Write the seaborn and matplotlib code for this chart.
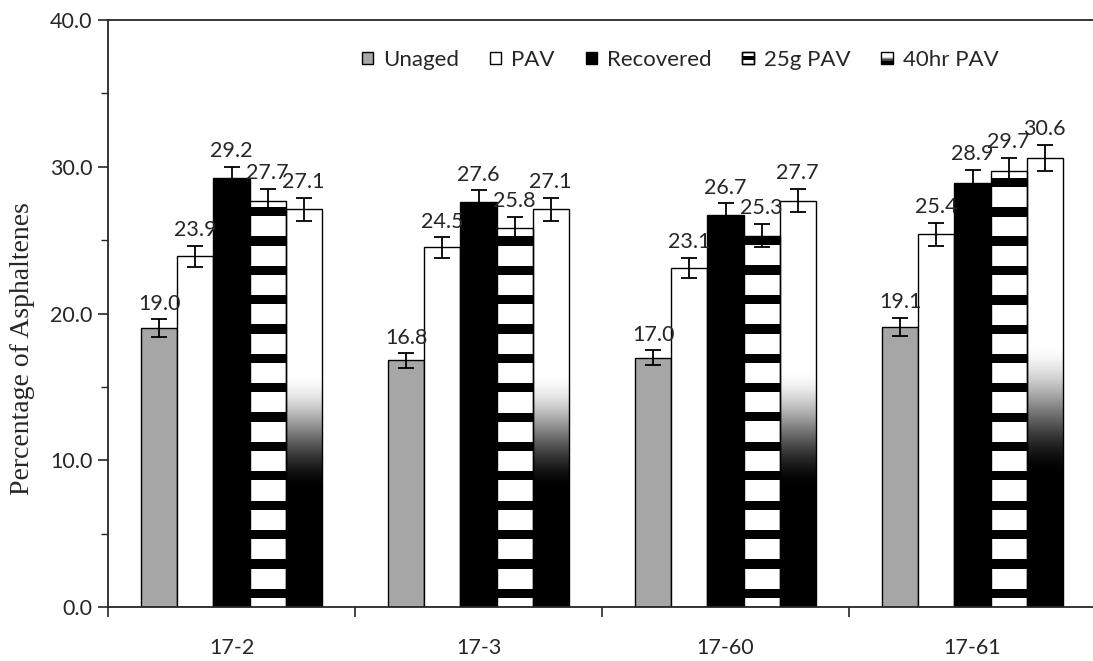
import numpy as np
import pandas as pd
import seaborn as sns
import matplotlib.pyplot as plt
from matplotlib.patches import Rectangle, Patch
from matplotlib.legend_handler import HandlerBase
from matplotlib.ticker import MultipleLocator, FixedLocator, NullFormatter

# data
samples = ['17-2', '17-3', '17-60', '17-61']
series = ['Unaged', 'PAV', 'Recovered', '25g PAV', '40hr PAV']
unaged = [19.0, 16.8, 17.0, 19.1]
pav = [23.9, 24.5, 23.1, 25.4]
recovered = [29.2, 27.6, 26.7, 28.9]
pav_25g = [27.7, 25.8, 25.3, 29.7]
pav_40hr = [27.1, 27.1, 27.7, 30.6]
err_unaged = [0.6, 0.5, 0.5, 0.6]
err_pav = [0.7, 0.7, 0.7, 0.8]
err_recovered = [0.8, 0.8, 0.8, 0.9]
err_25g = [0.8, 0.8, 0.8, 0.9]
err_40hr = [0.8, 0.8, 0.8, 0.9]
y_ticks = [0, 10, 20, 30, 40]

values = [unaged, pav, recovered, pav_25g, pav_40hr]
errors = [err_unaged, err_pav, err_recovered, err_25g, err_40hr]
colors = ['#a6a6a6', 'white', 'black', 'black', 'white']

df = pd.DataFrame({
    'Sample': samples * len(series),
    'Series': np.repeat(series, len(samples)),
    'Value': sum(values, []),
})

sns.set_style('ticks')
plt.rcParams['font.family'] = ['Lato', 'DejaVu Sans']
FS = 15.5

fig = plt.figure(figsize=(10.93, 6.61), dpi=100)
ax = fig.add_axes([108 / 1093, 54 / 661, 988 / 1093, 587 / 661])

sns.barplot(data=df, x='Sample', y='Value', hue='Series', hue_order=series,
            palette=colors, saturation=1, width=0.73, gap=0, edgecolor='black',
            linewidth=1, errorbar=None, legend=False, ax=ax)

# stripes for 25g PAV (white bands on black, period of 2 units)
yy = np.arange(0, 40, 0.02)
stripe = (((yy + 0.76) % 2.0) < 1.36).astype(float)[:, None]
for bar in ax.containers[3]:
    x0, w = bar.get_x(), bar.get_width()
    im = ax.imshow(stripe, cmap='gray', vmin=0, vmax=1, origin='lower', aspect='auto',
                   extent=(x0, x0 + w, 0, 40), interpolation='nearest', zorder=2)
    im.set_clip_path(bar)
    bar.set_facecolor('none')
    bar.set_zorder(2.1)

# gradient for 40hr PAV (black bottom -> white top)
for bar in ax.containers[4]:
    x0, w, h = bar.get_x(), bar.get_width(), bar.get_height()
    f = np.linspace(0, 1, 400)
    g = np.clip((f - 0.29) / 0.30, 0, 1)
    g = g * g * (3 - 2 * g)
    im = ax.imshow(g[:, None], cmap='gray', vmin=0, vmax=1, origin='lower', aspect='auto',
                   extent=(x0, x0 + w, 0, h), interpolation='bilinear', zorder=2)
    im.set_clip_path(bar)
    bar.set_facecolor('none')
    bar.set_zorder(2.1)

# error bars and value labels
for cont, vals, errs in zip(ax.containers, values, errors):
    xs = [b.get_x() + b.get_width() / 2 for b in cont]
    ax.errorbar(xs, vals, yerr=errs, fmt='none', ecolor='black', elinewidth=1.3,
                capsize=6, capthick=1.3, zorder=3)
    for x, v, e in zip(xs, vals, errs):
        ax.annotate(f'{v:.1f}', (x, v + e), xytext=(0, 4), textcoords='offset points',
                    ha='center', va='bottom', fontsize=FS)

ax.set_xlim(-0.5, 3.5)
ax.set_ylim(0, 40)
ax.set_yticks(y_ticks)
ax.set_yticklabels([f'{t:.1f}' for t in y_ticks], fontsize=FS)
ax.yaxis.set_minor_locator(MultipleLocator(5))
ax.tick_params(axis='y', which='major', length=7, width=1.2, direction='out', pad=4)
ax.tick_params(axis='y', which='minor', length=5, width=1, direction='out')
ax.tick_params(axis='x', which='major', length=0, labelsize=FS, pad=22)
ax.xaxis.set_minor_locator(FixedLocator([-0.5, 0.5, 1.5, 2.5, 3.5]))
ax.xaxis.set_minor_formatter(NullFormatter())
ax.tick_params(axis='x', which='minor', length=7, width=1.2, direction='out')
ax.set_xlabel('')
ax.set_ylabel('Percentage of Asphaltenes', family='Liberation Serif', fontsize=20)
ax.yaxis.set_label_coords(-0.074, 0.44)
for s in ['left', 'bottom', 'top']:
    ax.spines[s].set_linewidth(1.3)
ax.spines['right'].set_visible(False)


class StripeHandler(HandlerBase):
    def create_artists(self, legend, orig_handle, xd, yd, w, h, fontsize, trans):
        s = h
        x = -xd + (w - s) / 2
        y = -yd
        box = Rectangle((x, y), s, s, facecolor='white', edgecolor='black', lw=1, transform=trans)
        band = Rectangle((x, y + s * 0.35), s, s * 0.3, facecolor='black', edgecolor='none', transform=trans)
        frame = Rectangle((x, y), s, s, facecolor='none', edgecolor='black', lw=1, transform=trans)
        return [box, band, frame]


class GradientHandler(HandlerBase):
    def create_artists(self, legend, orig_handle, xd, yd, w, h, fontsize, trans):
        s = h
        x = -xd + (w - s) / 2
        y = -yd
        arts = []
        n = 10
        for i in range(n):
            f = (i + 0.5) / n
            g = np.clip((f - 0.25) / 0.35, 0, 1)
            arts.append(Rectangle((x, y + s * i / n), s, s / n, facecolor=str(g),
                                  edgecolor='none', transform=trans))
        arts.append(Rectangle((x, y), s, s, facecolor='none', edgecolor='black', lw=1, transform=trans))
        return arts


handles = [Patch(facecolor=c, edgecolor='black', lw=1) for c in colors[:3]]
h25, h40 = Patch(), Patch()
handles += [h25, h40]
ax.legend(handles, series, loc='center', bbox_to_anchor=(0.579, 0.932), ncol=5,
          frameon=False, fontsize=FS + 0.5, handlelength=0.5, handleheight=0.5,
          handletextpad=0.45, columnspacing=1.4,
          handler_map={h25: StripeHandler(), h40: GradientHandler()})

fig.savefig('out.png', dpi=100)
